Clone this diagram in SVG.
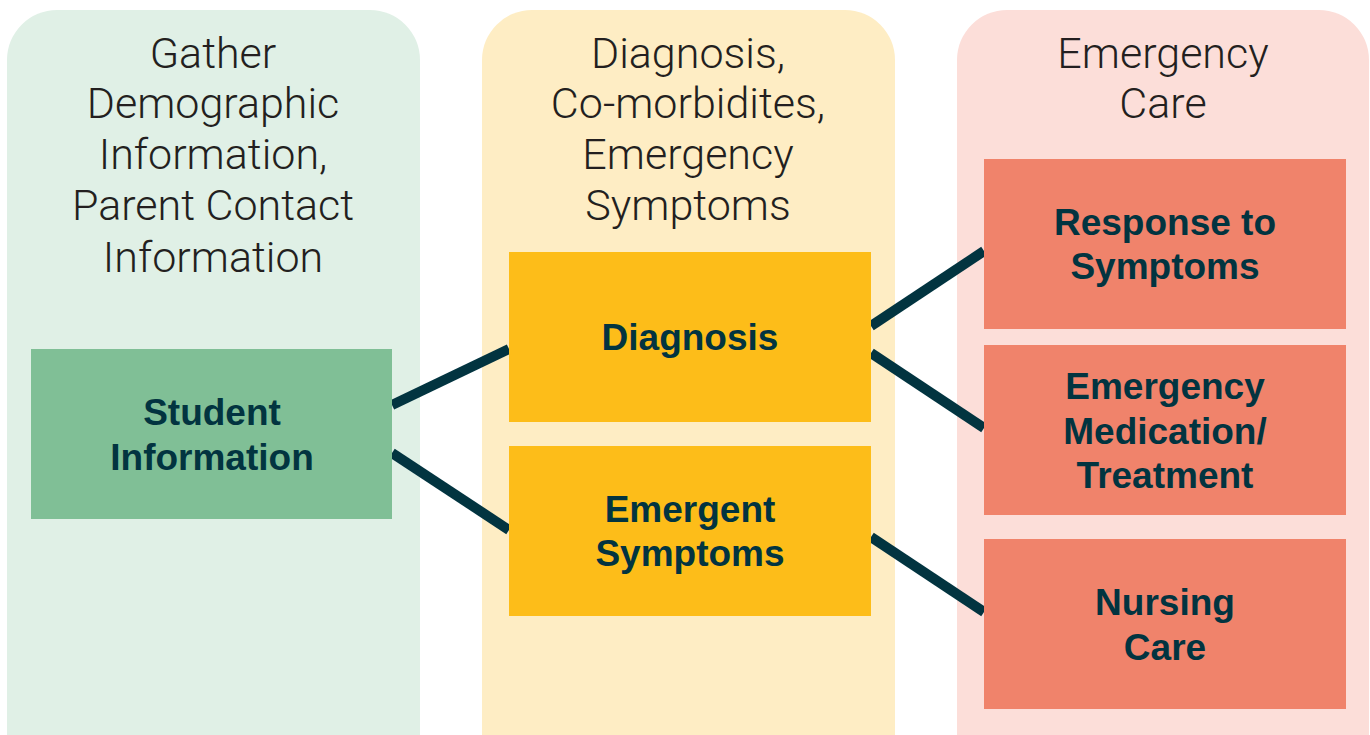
<svg xmlns="http://www.w3.org/2000/svg" width="1370" height="735" viewBox="0 0 1370 735">
<style>
.hdr{font-family:"Roboto","Liberation Sans",sans-serif;font-weight:300;font-size:43px;fill:#231F20;text-anchor:middle}
.lbl{font-family:"Liberation Sans","Arial",sans-serif;font-weight:bold;font-size:37px;fill:#023440;text-anchor:middle}
.conn{stroke:#023440;stroke-width:10;fill:none}
</style>
<rect width="1370" height="735" fill="#FFFFFF"/>
<g id="col-gather">
<path d="M7 735 V60 A50 50 0 0 1 57 10 H370 A50 50 0 0 1 420 60 V735 Z" fill="#E0F0E6"/>
<text class="hdr" x="213" y="68">Gather</text>
<text class="hdr" x="213" y="118">Demographic</text>
<text class="hdr" x="213" y="169">Information,</text>
<text class="hdr" x="213" y="220">Parent Contact</text>
<text class="hdr" x="213" y="272">Information</text>
</g>
<g id="col-diagnosis">
<path d="M482 735 V60 A50 50 0 0 1 532 10 H845 A50 50 0 0 1 895 60 V735 Z" fill="#FEEDC4"/>
<text class="hdr" x="688" y="68">Diagnosis,</text>
<text class="hdr" x="688" y="118">Co-morbidites,</text>
<text class="hdr" x="688" y="169">Emergency</text>
<text class="hdr" x="688" y="220">Symptoms</text>
</g>
<g id="col-emergency">
<path d="M957 735 V60 A50 50 0 0 1 1007 10 H1319 A50 50 0 0 1 1369 60 V735 Z" fill="#FCDED9"/>
<text class="hdr" x="1163" y="68">Emergency</text>
<text class="hdr" x="1163" y="118">Care</text>
</g>
<g id="connectors">
<line class="conn" x1="392" y1="405" x2="509" y2="349"/>
<line class="conn" x1="392" y1="453" x2="509" y2="530"/>
<line class="conn" x1="871" y1="326" x2="984" y2="251"/>
<line class="conn" x1="871" y1="353" x2="984" y2="428"/>
<line class="conn" x1="871" y1="537" x2="984" y2="612"/>
</g>
<g id="node-student">
<rect x="31" y="349" width="361" height="170" fill="#80BF96"/>
<text class="lbl" x="212" y="425">Student</text>
<text class="lbl" x="212" y="470">Information</text>
</g>
<g id="node-diagnosis">
<rect x="509" y="252" width="362" height="170" fill="#FDBD19"/>
<text class="lbl" x="690" y="350">Diagnosis</text>
</g>
<g id="node-emergent">
<rect x="509" y="446" width="362" height="170" fill="#FDBD19"/>
<text class="lbl" x="690" y="522">Emergent</text>
<text class="lbl" x="690" y="566">Symptoms</text>
</g>
<g id="node-response">
<rect x="984" y="159" width="362" height="170" fill="#F0836B"/>
<text class="lbl" x="1165" y="235">Response to</text>
<text class="lbl" x="1165" y="279">Symptoms</text>
</g>
<g id="node-medication">
<rect x="984" y="345" width="362" height="170" fill="#F0836B"/>
<text class="lbl" x="1165" y="399">Emergency</text>
<text class="lbl" x="1165" y="444">Medication/</text>
<text class="lbl" x="1165" y="488">Treatment</text>
</g>
<g id="node-nursing">
<rect x="984" y="539" width="362" height="170" fill="#F0836B"/>
<text class="lbl" x="1165" y="615">Nursing</text>
<text class="lbl" x="1165" y="660">Care</text>
</g>
</svg>
